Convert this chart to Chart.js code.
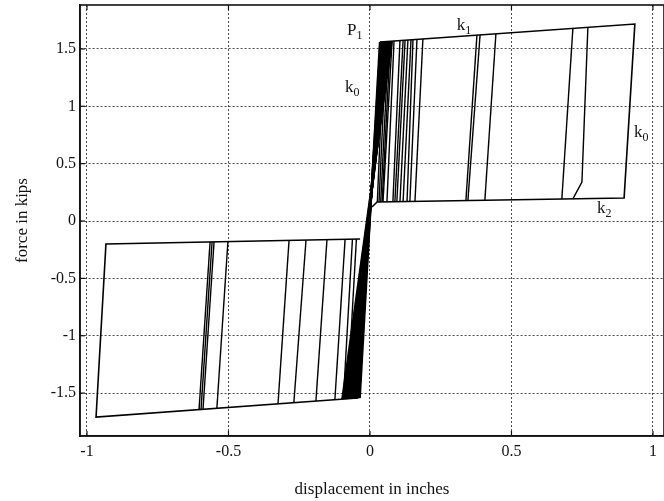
<!DOCTYPE html>
<html>
<head>
<meta charset="utf-8">
<script src="https://cdn.jsdelivr.net/npm/chart.js@4.4.0/dist/chart.umd.min.js"></script>
<style>
  html, body { margin: 0; padding: 0; background: #fff; }
  #wrap { width: 664px; height: 501px; }
</style>
</head>
<body>
<div id="wrap"><canvas id="c" width="664" height="501"></canvas></div>
<script>
// tick values and labels
const xTicks = [-1, -0.5, 0, 0.5, 1];
const xTickLabels = ['-1', '-0.5', '0', '0.5', '1'];
const yTicks = [-1.5, -1, -0.5, 0, 0.5, 1, 1.5];
const yTickLabels = ['-1.5', '-1', '-0.5', '0', '0.5', '1', '1.5'];

// outer boundary of the positive loop (k1 top, k0 right side, k2 bottom)
const upperLoopX = [0.035, 0.936, 0.898, 0.025, 0.007];
const upperLoopF = [1.561, 1.717, 0.200, 0.166, 0.122];

// outer boundary of the negative loop
const lowerLoopX = [-0.035, -0.933, -0.968, -0.042];
const lowerLoopF = [-0.157, -0.200, -1.709, -1.543];

// unloading branches inside the positive loop (top on k1 line -> bottom on k2 line)
const upTopX = [0.078, 0.085, 0.106, 0.117, 0.124, 0.134, 0.145, 0.152, 0.166, 0.187, 0.378, 0.389, 0.445, 0.717, 0.770];
const upTopF = [1.568, 1.569, 1.573, 1.575, 1.576, 1.578, 1.580, 1.581, 1.584, 1.587, 1.620, 1.622, 1.632, 1.679, 1.688];
const upKneeX = [null, null, null, null, null, null, null, null, null, null, null, null, null, null, 0.749];
const upKneeF = [null, null, null, null, null, null, null, null, null, null, null, null, null, null, 0.34];
const upBotX = [0.046, 0.060, 0.081, 0.088, 0.095, 0.106, 0.117, 0.131, 0.141, 0.159, 0.339, 0.346, 0.406, 0.678, 0.717];
const upBotF = [0.167, 0.167, 0.168, 0.168, 0.168, 0.169, 0.169, 0.170, 0.170, 0.171, 0.178, 0.178, 0.180, 0.191, 0.193];

// reloading branches inside the negative loop (bottom line -> top k2 line)
const lowBotX = [-0.604, -0.597, -0.590, -0.541, -0.325, -0.269, -0.191, -0.124];
const lowBotF = [-1.644, -1.642, -1.641, -1.632, -1.594, -1.584, -1.570, -1.558];
const lowTopX = [-0.565, -0.558, -0.551, -0.502, -0.286, -0.226, -0.152, -0.088];
const lowTopF = [-0.182, -0.182, -0.182, -0.179, -0.169, -0.166, -0.163, -0.160];

// dense band of small cycles through the origin
const bandBotX = [-0.036, -0.040, -0.044, -0.048, -0.052, -0.056, -0.060, -0.064, -0.068, -0.072, -0.076, -0.080, -0.084, -0.088, -0.093, -0.098];
const bandBotF = [-1.544, -1.545, -1.545, -1.546, -1.547, -1.547, -1.548, -1.549, -1.549, -1.550, -1.551, -1.551, -1.552, -1.553, -1.553, -1.554];
const bandTopX = [0.035, 0.038, 0.041, 0.044, 0.047, 0.050, 0.053, 0.056, 0.059, 0.062, 0.065, 0.068, 0.071, 0.073, 0.075, 0.077];
const bandTopF = [1.561, 1.561, 1.562, 1.562, 1.563, 1.563, 1.564, 1.564, 1.565, 1.565, 1.566, 1.566, 1.567, 1.567, 1.568, 1.568];

// extra unloading / reloading strokes next to the band
const crowdUpTopX = [0.050, 0.058, 0.066, 0.072];
const crowdUpBotX = [0.026, 0.032, 0.038, 0.043];
const crowdLowBotX = [-0.094, -0.080];
const crowdLowTopX = [-0.062, -0.048];

// annotations
const noteText = ['P', 'k', 'k', 'k', 'k'];
const noteSub = ['1', '0', '1', '0', '2'];
const noteX = [-0.081, -0.088, 0.307, 0.933, 0.802];
const noteF = [1.62, 1.125, 1.665, 0.732, 0.07];

const pts = (xs, ys) => xs.map((x, i) => ({ x: x, y: ys[i] }));
const line = (data, w) => ({
  data: data, showLine: true, pointRadius: 0, borderColor: '#000',
  borderWidth: w || 1.6, tension: 0, fill: false
});

const datasets = [];
datasets.push(line(pts(upperLoopX, upperLoopF)));
datasets.push(line(pts(lowerLoopX, lowerLoopF)));
upTopX.forEach((x, i) => {
  const d = [{ x: x, y: upTopF[i] }];
  if (upKneeX[i] !== null) d.push({ x: upKneeX[i], y: upKneeF[i] });
  d.push({ x: upBotX[i], y: upBotF[i] });
  datasets.push(line(d, 1.4));
});
lowBotX.forEach((x, i) => {
  datasets.push(line([{ x: x, y: lowBotF[i] }, { x: lowTopX[i], y: lowTopF[i] }], 1.4));
});
bandBotX.forEach((x, i) => {
  datasets.push(line([{ x: x, y: bandBotF[i] }, { x: bandTopX[i], y: bandTopF[i] }], 2.2));
});
crowdUpTopX.forEach((x, i) => {
  datasets.push(line([{ x: x, y: 1.564 }, { x: crowdUpBotX[i], y: 0.167 }], 1.4));
});
crowdLowBotX.forEach((x, i) => {
  datasets.push(line([{ x: x, y: -1.552 }, { x: crowdLowTopX[i], y: -0.159 }], 1.4));
});

const serif = '"Liberation Serif", "DejaVu Serif", serif';

const framePlugin = {
  id: 'frame',
  afterDatasetsDraw(chart) {
    const { ctx, chartArea: a, scales } = chart;
    ctx.save();
    ctx.strokeStyle = '#111';
    ctx.lineWidth = 1.6;
    ctx.strokeRect(a.left, a.top, a.right - a.left, a.bottom - a.top);
    // inward tick marks
    ctx.lineWidth = 1.2;
    xTicks.forEach(v => {
      const px = scales.x.getPixelForValue(v);
      ctx.beginPath();
      ctx.moveTo(px, a.bottom); ctx.lineTo(px, a.bottom - 5);
      ctx.moveTo(px, a.top); ctx.lineTo(px, a.top + 5);
      ctx.stroke();
    });
    yTicks.forEach(v => {
      const py = scales.y.getPixelForValue(v);
      ctx.beginPath();
      ctx.moveTo(a.left, py); ctx.lineTo(a.left + 5, py);
      ctx.stroke();
    });
    // annotations with subscripts
    ctx.fillStyle = '#111';
    ctx.textBaseline = 'alphabetic';
    noteText.forEach((t, i) => {
      const px = scales.x.getPixelForValue(noteX[i]);
      const py = scales.y.getPixelForValue(noteF[i]);
      ctx.font = '17px ' + serif;
      ctx.fillText(t, px, py);
      const w = ctx.measureText(t).width;
      ctx.font = '12px ' + serif;
      ctx.fillText(noteSub[i], px + w, py + 4);
    });
    ctx.restore();
  }
};

new Chart(document.getElementById('c'), {
  type: 'scatter',
  data: { datasets: datasets },
  options: {
    responsive: false,
    animation: false,
    events: [],
    layout: { padding: { top: 5, right: 0, left: 0, bottom: 0 } },
    plugins: { legend: { display: false }, tooltip: { enabled: false } },
    scales: {
      x: {
        type: 'linear', min: -1.0247, max: 1.039,
        afterBuildTicks: s => { s.ticks = xTicks.map(v => ({ value: v })); },
        afterFit: s => { s.height = 65; s.paddingLeft = 0; s.paddingRight = 0; },
        ticks: {
          color: '#111', font: { family: serif, size: 16 }, padding: 6, maxRotation: 0, autoSkip: false,
          callback: v => xTickLabels[xTicks.indexOf(v)]
        },
        grid: { color: 'rgba(0,0,0,0.7)', lineWidth: 1, drawTicks: false },
        border: { color: '#111', width: 1.6, dash: [2, 2] },
        title: { display: true, text: 'displacement in inches', color: '#111',
                 font: { family: serif, size: 17 }, padding: { top: 0, bottom: 1 } }
      },
      y: {
        type: 'linear', min: -1.874, max: 1.883,
        afterBuildTicks: s => { s.ticks = yTicks.map(v => ({ value: v })); },
        afterFit: s => { s.width = 80; s.paddingTop = 0; s.paddingBottom = 0; },
        ticks: {
          color: '#111', font: { family: serif, size: 16 }, padding: 4, autoSkip: false,
          callback: v => yTickLabels[yTicks.indexOf(v)]
        },
        grid: { color: 'rgba(0,0,0,0.7)', lineWidth: 1, drawTicks: false },
        border: { color: '#111', width: 1.6, dash: [2, 2] },
        title: { display: true, text: 'force in kips', color: '#111',
                 font: { family: serif, size: 17 }, padding: { top: 12, bottom: 0 } }
      }
    }
  },
  plugins: [framePlugin]
});
</script>
</body>
</html>
